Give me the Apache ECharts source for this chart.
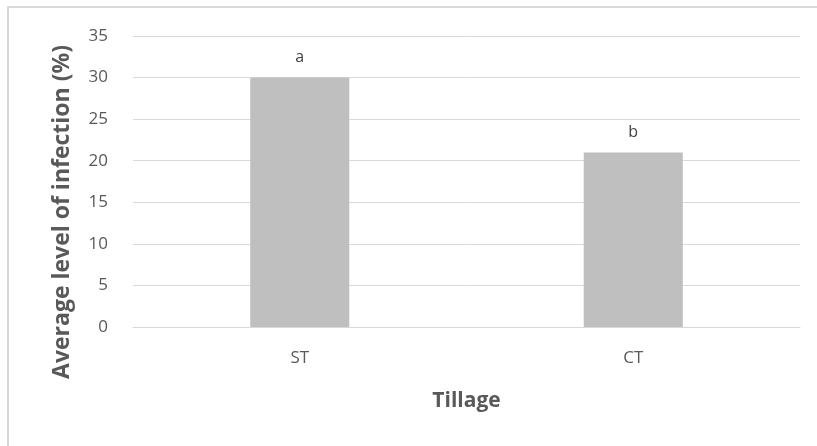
<!DOCTYPE html>
<html>
<head>
<meta charset="utf-8">
<script src="https://cdn.jsdelivr.net/npm/echarts@6/dist/echarts.min.js"></script>
<style>
html,body{margin:0;padding:0;background:#fff;}
#frame{position:absolute;left:7px;top:6px;width:810px;height:440px;border-left:2px solid #d9d9d9;border-top:2px solid #d9d9d9;}
#chart{position:absolute;left:0;top:0;width:817px;height:446px;}
</style>
</head>
<body>
<div id="frame"></div>
<div id="chart"></div>
<script>
const categories = ['ST', 'CT'];
const values = [30, 21.0];
const letters = ['a', 'b'];
const yTicks = [0, 5, 10, 15, 20, 25, 30, 35];

const chart = echarts.init(document.getElementById('chart'), null, {renderer: 'canvas'});
const font = '"Open Sans", "Segoe UI", sans-serif';
chart.setOption({
  backgroundColor: 'transparent',
  animation: false,
  grid: {left: 133, right: 17, top: 36, bottom: 119, containLabel: false},
  xAxis: {
    type: 'category',
    data: categories,
    name: 'Tillage',
    nameLocation: 'middle',
    nameGap: 64,
    nameTextStyle: {fontFamily: font, fontSize: 21, fontWeight: 'bold', color: '#595959'},
    axisLine: {show: true, lineStyle: {color: '#d9d9d9', width: 1}},
    axisTick: {show: false},
    axisLabel: {fontFamily: font, fontSize: 17, color: '#595959', margin: 23}
  },
  yAxis: {
    type: 'value',
    min: 0, max: 35, interval: 5,
    axisLine: {show: false},
    axisTick: {show: false},
    splitLine: {lineStyle: {color: '#d9d9d9', width: 1}},
    axisLabel: {fontFamily: font, fontSize: 17, color: '#595959', margin: 25,
      formatter: v => yTicks.includes(v) ? String(v) : ''}
  },
  graphic: [{
    type: 'text',
    x: 62, y: 212,
    rotation: Math.PI / 2,
    style: {
      text: 'Average level of infection (%)',
      fontFamily: font, fontSize: 23, fontWeight: 'bold', fill: '#595959',
      align: 'center', verticalAlign: 'middle'
    }
  }],
  series: [{
    type: 'bar',
    data: values,
    barWidth: '29.7%',
    itemStyle: {color: '#bfbfbf'},
    label: {
      show: true, position: 'top', distance: 12,
      fontFamily: font, fontSize: 16, color: '#404040',
      formatter: p => letters[p.dataIndex]
    }
  }]
});
</script>
</body>
</html>
